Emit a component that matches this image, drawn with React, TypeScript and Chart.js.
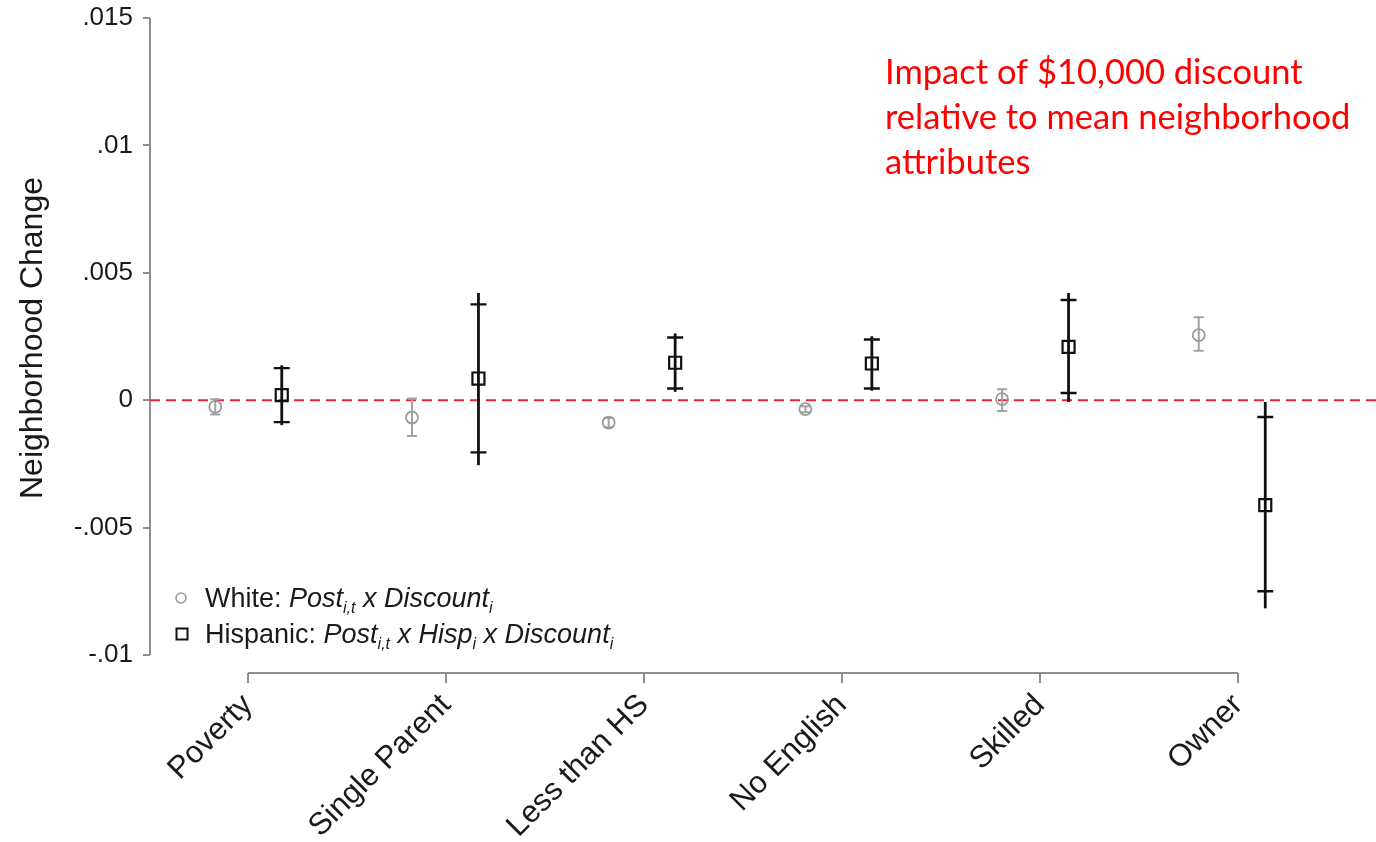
import React, { useEffect, useRef } from 'react';
import { Chart, registerables } from 'chart.js';

Chart.register(...registerables);

const categories = ['Poverty', 'Single Parent', 'Less than HS', 'No English', 'Skilled', 'Owner'];

// White: Post x Discount (point estimate and CI)
const whiteEst = [-0.00026, -0.00068, -0.00088, -0.00035, 0.00004, 0.00255];
const whiteLo = [-0.00056, -0.00141, -0.00106, -0.00047, -0.00042, 0.00194];
const whiteHi = [0.00004, 0.00007, -0.0007, -0.00024, 0.00043, 0.00326];

// Hispanic: Post x Hisp x Discount (point estimate, inner CI with caps, outer CI line)
const hispEst = [0.0002, 0.00085, 0.00147, 0.00144, 0.00209, -0.00412];
const hispLoCap = [-0.00086, -0.00205, 0.00046, 0.00046, 0.00028, -0.0075];
const hispHiCap = [0.00126, 0.00376, 0.00246, 0.00238, 0.00393, -0.00066];
const hispLoLine = [-0.00098, -0.00255, 0.00033, 0.00037, -0.00007, -0.00817];
const hispHiLine = [0.00137, 0.00421, 0.00262, 0.00251, 0.00421, -0.00007];

const yTicks = [-0.01, -0.005, 0, 0.005, 0.01, 0.015];
const xTicks = [1, 2, 3, 4, 5, 6];

const yTitle = 'Neighborhood Change';
const annotationLines = [
  'Impact of $10,000 discount',
  'relative to mean neighborhood',
  'attributes',
];

const WHITE_OFF = -0.169;
const HISP_OFF = 0.169;

const FONT = '"Liberation Sans", Arial, Helvetica, sans-serif';

const fmtY = (v: number) => {
  if (v === 0) return '0';
  return String(v).replace('0.', '.');
};

const overlayPlugin = {
  id: 'overlay',
  beforeDatasetsDraw(chart: any) {
    const { ctx, chartArea } = chart;
    const xs = chart.scales.x;
    const xd = chart.scales.xData;
    const ys = chart.scales.y;
    ctx.save();
    // axis lines
    ctx.strokeStyle = '#8e8e8e';
    ctx.lineWidth = 2;
    ctx.beginPath();
    ctx.moveTo(chartArea.left, ys.getPixelForValue(yTicks[yTicks.length - 1]));
    ctx.lineTo(chartArea.left, ys.getPixelForValue(yTicks[0]));
    ctx.stroke();
    ctx.beginPath();
    ctx.moveTo(xs.getPixelForValue(xTicks[0]), chartArea.bottom);
    ctx.lineTo(xs.getPixelForValue(xTicks[xTicks.length - 1]), chartArea.bottom);
    ctx.stroke();

    // zero line
    ctx.strokeStyle = '#e8213f';
    ctx.lineWidth = 2;
    ctx.setLineDash([10, 6]);
    const y0 = ys.getPixelForValue(0);
    ctx.beginPath();
    ctx.moveTo(chartArea.left, y0);
    ctx.lineTo(chart.width, y0);
    ctx.stroke();
    ctx.setLineDash([]);

    // white error bars
    ctx.strokeStyle = '#a3a3a3';
    ctx.lineWidth = 2;
    categories.forEach((_, i) => {
      const x = xd.getPixelForValue(i + 1 + WHITE_OFF);
      const lo = ys.getPixelForValue(whiteLo[i]);
      const hi = ys.getPixelForValue(whiteHi[i]);
      ctx.beginPath();
      ctx.moveTo(x, lo);
      ctx.lineTo(x, hi);
      ctx.moveTo(x - 5, lo);
      ctx.lineTo(x + 5, lo);
      ctx.moveTo(x - 5, hi);
      ctx.lineTo(x + 5, hi);
      ctx.stroke();
    });

    // hispanic error bars
    ctx.strokeStyle = '#111';
    categories.forEach((_, i) => {
      const x = xd.getPixelForValue(i + 1 + HISP_OFF);
      ctx.lineWidth = 2.8;
      ctx.beginPath();
      ctx.moveTo(x, ys.getPixelForValue(hispLoLine[i]));
      ctx.lineTo(x, ys.getPixelForValue(hispHiLine[i]));
      ctx.stroke();
      ctx.lineWidth = 2.4;
      const lo = ys.getPixelForValue(hispLoCap[i]);
      const hi = ys.getPixelForValue(hispHiCap[i]);
      ctx.beginPath();
      ctx.moveTo(x - 8, lo);
      ctx.lineTo(x + 8, lo);
      ctx.moveTo(x - 8, hi);
      ctx.lineTo(x + 8, hi);
      ctx.stroke();
    });
    ctx.restore();
  },
  afterDraw(chart: any) {
    const { ctx } = chart;
    ctx.save();
    // y-axis title
    ctx.save();
    ctx.translate(33, 338);
    ctx.rotate(-Math.PI / 2);
    ctx.fillStyle = '#1a1a1a';
    ctx.font = `32px ${FONT}`;
    ctx.textAlign = 'center';
    ctx.textBaseline = 'middle';
    ctx.fillText(yTitle, 0, 0);
    ctx.restore();

    // legend
    const drawSegs = (segs: any[], x: number, y: number) => {
      let cx = x;
      ctx.textBaseline = 'alphabetic';
      ctx.textAlign = 'left';
      ctx.fillStyle = '#1a1a1a';
      segs.forEach((s) => {
        const size = s.sub ? 16 : 27;
        ctx.font = `${s.it ? 'italic ' : ''}${size}px ${FONT}`;
        ctx.fillText(s.t, cx, s.sub ? y + 6 : y);
        cx += ctx.measureText(s.t).width;
      });
    };
    ctx.strokeStyle = '#9a9a9a';
    ctx.lineWidth = 1.6;
    ctx.beginPath();
    ctx.arc(181, 598, 5, 0, Math.PI * 2);
    ctx.stroke();
    ctx.strokeStyle = '#111';
    ctx.lineWidth = 2;
    ctx.strokeRect(176.5, 628.5, 11, 11);
    drawSegs(
      [
        { t: 'White: ' },
        { t: 'Post', it: true },
        { t: 'i,t', it: true, sub: true },
        { t: ' x Discount', it: true },
        { t: 'i', it: true, sub: true },
      ],
      205,
      607
    );
    drawSegs(
      [
        { t: 'Hispanic: ' },
        { t: 'Post', it: true },
        { t: 'i,t', it: true, sub: true },
        { t: ' x Hisp', it: true },
        { t: 'i', it: true, sub: true },
        { t: ' x Discount', it: true },
        { t: 'i', it: true, sub: true },
      ],
      205,
      643
    );

    // annotation
    ctx.fillStyle = '#ff0000';
    ctx.font = `34.5px Lato, "Open Sans", sans-serif`;
    ctx.textAlign = 'left';
    ctx.textBaseline = 'alphabetic';
    annotationLines.forEach((l, i) => {
      ctx.fillText(l, 885, 84 + i * 45);
    });
    ctx.restore();
  },
};

export default function App() {
  const ref = useRef<HTMLCanvasElement | null>(null);
  useEffect(() => {
    document.body.style.margin = '0';
    if (!ref.current) return;
    Chart.defaults.font.family = FONT;
    const chart = new Chart(ref.current, {
      type: 'scatter',
      data: {
        datasets: [
          {
            label: 'White',
            xAxisID: 'xData',
            data: categories.map((_, i) => ({ x: i + 1 + WHITE_OFF, y: whiteEst[i] })),
            pointStyle: 'circle',
            pointRadius: 6,
            borderColor: '#9a9a9a',
            borderWidth: 1.8,
            backgroundColor: 'rgba(0,0,0,0)',
          },
          {
            label: 'Hispanic',
            xAxisID: 'xData',
            data: categories.map((_, i) => ({ x: i + 1 + HISP_OFF, y: hispEst[i] })),
            pointStyle: 'rect',
            pointRadius: 8.5,
            borderColor: '#111',
            borderWidth: 2.2,
            backgroundColor: 'rgba(0,0,0,0)',
          },
        ],
      },
      options: {
        responsive: false,
        animation: false,
        events: [],
        layout: { autoPadding: false, padding: { top: 18, left: 0, right: 0, bottom: 0 } },
        plugins: { legend: { display: false }, tooltip: { enabled: false } },
        scales: {
          x: {
            type: 'linear',
            position: 'bottom',
            min: 0.50505,
            max: 6.697,
            afterBuildTicks: (s: any) => {
              s.ticks = xTicks.map((v) => ({ value: v }));
            },
            afterFit: (s: any) => {
              s.height = 169;
              s.paddingLeft = 0;
              s.paddingRight = 0;
            },
            border: { display: false },
            grid: {
              drawOnChartArea: false,
              drawTicks: true,
              tickLength: 10,
              color: '#8e8e8e',
              lineWidth: 2,
            },
            ticks: {
              autoSkip: false,
              minRotation: 45,
              maxRotation: 45,
              padding: 4,
              color: '#1a1a1a',
              font: { size: 31 },
              callback: (v: any) => categories[Number(v) - 1] ?? '',
            },
          },
          xData: {
            type: 'linear',
            position: 'bottom',
            display: false,
            min: 0.4992,
            max: 6.732,
          },
          y: {
            type: 'linear',
            min: -0.010707,
            max: 0.015,
            afterBuildTicks: (s: any) => {
              s.ticks = yTicks.map((v) => ({ value: v }));
            },
            afterFit: (s: any) => {
              s.width = 150;
              s.paddingTop = 0;
              s.paddingBottom = 0;
            },
            border: { display: false },
            grid: {
              drawOnChartArea: false,
              drawTicks: true,
              tickLength: 7,
              color: '#8e8e8e',
              lineWidth: 2,
            },
            ticks: {
              padding: 10,
              color: '#1a1a1a',
              font: { size: 26 },
              callback: (v: any) => fmtY(Number(v)),
            },
          },
        },
      },
      plugins: [overlayPlugin],
    });
    return () => chart.destroy();
  }, []);
  return (
    <div style={{ width: 1376, height: 842, background: '#fff' }}>
      <canvas ref={ref} width={1376} height={842} style={{ display: 'block' }} />
    </div>
  );
}
